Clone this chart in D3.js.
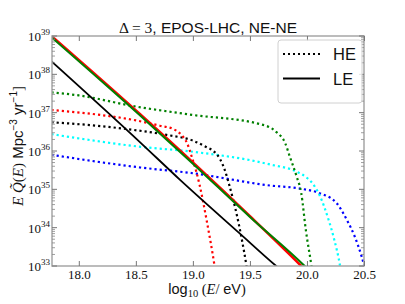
<!DOCTYPE html>
<html lang="en">
<head>
  <meta charset="UTF-8">
  <title>EPOS-LHC NE-NE</title>
  <style>
    body { margin: 0; background: #fff; }
    svg { display: block; }
    .tick-label { font-family: "Liberation Serif", "DejaVu Serif", serif; font-size: 13px; fill: #111; }
    .sans { font-family: "Liberation Sans", Arial, sans-serif; }
    .serif { font-family: "Liberation Serif", "DejaVu Serif", serif; }
  </style>
</head>
<body>
  <script src="https://cdn.jsdelivr.net/npm/d3@7"></script>
  <script>
    // ticks
    var xTicks = [18.0, 18.5, 19.0, 19.5, 20.0, 20.5];
    var yDecades = [33, 34, 35, 36, 37, 38, 39];
    var legendLabels = ["HE", "LE"];

    // series: [log10(E/eV), log10(E Q)]
    var leRed = [[17.76, 39.0], [18.54, 36.95], [19.0, 35.7], [19.5, 34.3], [19.95, 33.0], [20.0, 32.85]];
    var leGreen = [[17.76, 38.97], [18.54, 36.92], [19.0, 35.67], [19.5, 34.28], [19.98, 33.0], [20.02, 32.88]];
    var leBlack = [[17.76, 38.34], [18.54, 36.22], [18.89, 35.24], [19.41, 33.85], [19.73, 33.0], [19.77, 32.9]];

    var heGreen = [[17.76, 37.53], [18.0, 37.45], [18.48, 37.17], [19.0, 36.94], [19.59, 36.7], [19.73, 36.5], [19.81, 36.2], [19.85, 35.85], [19.91, 35.33], [19.95, 34.9], [19.99, 33.94], [20.04, 33.0], [20.06, 32.6]];
    var heRed = [[17.76, 37.07], [18.19, 36.94], [18.48, 36.81], [18.71, 36.66], [18.83, 36.57], [18.9, 36.42], [18.95, 36.2], [18.99, 35.85], [19.03, 35.46], [19.06, 35.1], [19.12, 34.2], [19.19, 33.0], [19.21, 32.6]];
    var heBlack = [[17.76, 36.75], [18.19, 36.65], [18.48, 36.55], [18.77, 36.42], [19.0, 36.27], [19.12, 36.1], [19.18, 36.0], [19.24, 35.78], [19.28, 35.5], [19.32, 35.1], [19.38, 34.4], [19.43, 33.68], [19.47, 33.0], [19.49, 32.6]];
    var heCyan = [[17.76, 36.44], [18.54, 36.11], [19.0, 35.98], [19.675, 35.65], [19.91, 35.46], [20.0, 35.3], [20.05, 35.15], [20.11, 34.85], [20.19, 34.2], [20.24, 33.68], [20.29, 33.0], [20.31, 32.6]];
    var heBlue = [[17.76, 35.9], [18.54, 35.57], [19.0, 35.42], [19.675, 35.1], [19.94, 35.02], [20.11, 34.9], [20.26, 34.64], [20.35, 34.2], [20.42, 33.76], [20.48, 33.24], [20.52, 32.8]];

    var width = 405, height = 304;
    var mL = 52, mR = 364, mT = 36, mB = 266;

    var svg = d3.select("body").append("svg").attr("width", width).attr("height", height);

    var x = d3.scaleLinear().domain([17.765, 20.5]).range([mL, mR]);
    var y = d3.scaleLog().domain([1e33, 1e39]).range([mB, mT]);

    svg.append("defs").append("clipPath").attr("id", "plot")
      .append("rect").attr("x", mL).attr("y", mT).attr("width", mR - mL).attr("height", mB - mT);

    var line = d3.line()
      .x(function (d) { return x(d[0]); })
      .y(function (d) { return y(Math.pow(10, d[1])); })
      .curve(d3.curveMonotoneX);

    var series = [
      { data: heBlue, color: "#0000ff", dotted: true },
      { data: heCyan, color: "#00ffff", dotted: true },
      { data: heBlack, color: "#000000", dotted: true },
      { data: heRed, color: "#ff0000", dotted: true },
      { data: heGreen, color: "#008000", dotted: true },
      { data: leBlack, color: "#000000", dotted: false, w: 1.8 },
      { data: leRed, color: "#ff0000", dotted: false, w: 2.6 },
      { data: leGreen, color: "#008000", dotted: false, w: 2.0 }
    ];

    var plot = svg.append("g").attr("clip-path", "url(#plot)");
    plot.selectAll("path").data(series).enter().append("path")
      .attr("d", function (d) { return line(d.data); })
      .attr("fill", "none")
      .attr("stroke", function (d) { return d.color; })
      .attr("stroke-width", function (d) { return d.dotted ? 2.2 : d.w; })
      .attr("stroke-dasharray", function (d) { return d.dotted ? "2.2,3" : null; });

    // frame
    var grey = "#a6a6a6";
    svg.append("rect").attr("x", mL).attr("y", mT).attr("width", mR - mL).attr("height", mB - mT)
      .attr("fill", "none").attr("stroke", grey).attr("stroke-width", 1.5);

    // x ticks (bottom + top, inward)
    var xAxisB = d3.axisBottom(x).tickValues(xTicks).tickSizeInner(-5).tickSizeOuter(0)
      .tickFormat(d3.format(".1f"));
    var gx = svg.append("g").attr("transform", "translate(0," + mB + ")").call(xAxisB);
    gx.select(".domain").remove();
    gx.selectAll("line").attr("stroke", "#777");
    gx.selectAll("text").attr("class", "tick-label").attr("dy", null).attr("y", 12.5);

    var gxt = svg.append("g").attr("transform", "translate(0," + mT + ")")
      .call(d3.axisTop(x).tickValues(xTicks).tickSizeInner(-5).tickSizeOuter(0).tickFormat(""));
    gxt.select(".domain").remove();
    gxt.selectAll("line").attr("stroke", "#777");

    // y ticks: majors + minors on both sides
    var majors = yDecades.map(function (k) { return Math.pow(10, k); });
    var minors = [];
    yDecades.slice(0, -1).forEach(function (k) {
      for (var m = 2; m <= 9; m++) minors.push(m * Math.pow(10, k));
    });
    [mL, mR].forEach(function (px) {
      var dir = px === mL ? 1 : -1;
      var g = svg.append("g");
      g.selectAll(".maj").data(majors).enter().append("line")
        .attr("x1", px).attr("x2", px + dir * 5)
        .attr("y1", function (d) { return y(d); }).attr("y2", function (d) { return y(d); })
        .attr("stroke", "#777").attr("stroke-width", 1);
      g.selectAll(".min").data(minors).enter().append("line")
        .attr("x1", px).attr("x2", px + dir * 3)
        .attr("y1", function (d) { return y(d); }).attr("y2", function (d) { return y(d); })
        .attr("stroke", "#888").attr("stroke-width", 0.8);
    });

    var yl = svg.append("g").selectAll("text").data(yDecades).enter().append("text")
      .attr("class", "tick-label").attr("text-anchor", "end")
      .attr("x", 50).attr("y", function (d) { return y(Math.pow(10, d)) + 5; });
    yl.append("tspan").text("10");
    yl.append("tspan").attr("dy", -6).attr("font-size", 9).text(function (d) { return d; });

    // title
    var title = svg.append("text").attr("x", 208).attr("y", 33).attr("text-anchor", "middle").attr("font-size", 15.5).attr("fill", "#111");
    title.append("tspan").attr("class", "serif").text("Δ = 3");
    title.append("tspan").attr("class", "sans").text(", EPOS-LHC, NE-NE");

    // x label
    var xl = svg.append("text").attr("x", 207).attr("y", 294).attr("text-anchor", "middle").attr("font-size", 14.5).attr("fill", "#111");
    xl.append("tspan").attr("class", "sans").text("log");
    xl.append("tspan").attr("class", "serif").attr("font-size", 10.5).attr("dy", 3).text("10");
    xl.append("tspan").attr("class", "serif").attr("dy", -3).text(" (");
    xl.append("tspan").attr("class", "serif").attr("font-style", "italic").text("E");
    xl.append("tspan").attr("class", "serif").text("/ ");
    xl.append("tspan").attr("class", "sans").text("eV");
    xl.append("tspan").attr("class", "serif").text(")");

    // y label
    var ylab = svg.append("text").attr("transform", "translate(23,146) rotate(-90)")
      .attr("text-anchor", "middle").attr("font-size", 15).attr("fill", "#111");
    ylab.append("tspan").attr("class", "serif").attr("font-style", "italic").text("E Q\u0303");
    ylab.append("tspan").attr("class", "serif").text("(");
    ylab.append("tspan").attr("class", "serif").attr("font-style", "italic").text("E");
    ylab.append("tspan").attr("class", "serif").text(")");
    ylab.append("tspan").attr("class", "sans").text(" Mpc");
    ylab.append("tspan").attr("class", "sans").attr("font-size", 10).attr("dy", -6).text("\u22123");
    ylab.append("tspan").attr("class", "sans").attr("dy", 6).text(" yr");
    ylab.append("tspan").attr("class", "sans").attr("font-size", 10).attr("dy", -6).text("\u22121");
    ylab.append("tspan").attr("class", "serif").attr("dy", 6).text("]");

    // legend
    var lg = svg.append("g");
    lg.append("rect").attr("x", 278).attr("y", 40).attr("width", 84).attr("height", 63).attr("rx", 3)
      .attr("fill", "#fff").attr("fill-opacity", 0.8).attr("stroke", "#d0d0d0").attr("stroke-width", 1);
    var items = lg.selectAll(".item").data(legendLabels).enter().append("g")
      .attr("transform", function (d, i) { return "translate(0," + (54 + i * 24.5) + ")"; });
    items.append("line").attr("x1", 283).attr("x2", 320).attr("y1", 0).attr("y2", 0)
      .attr("stroke", "#000").attr("stroke-width", 2)
      .attr("stroke-dasharray", function (d, i) { return i === 0 ? "2,3" : null; });
    items.append("text").attr("class", "sans").attr("x", 333).attr("y", 6).attr("font-size", 16.5)
      .attr("fill", "#111").text(function (d) { return d; });
  </script>
</body>
</html>
